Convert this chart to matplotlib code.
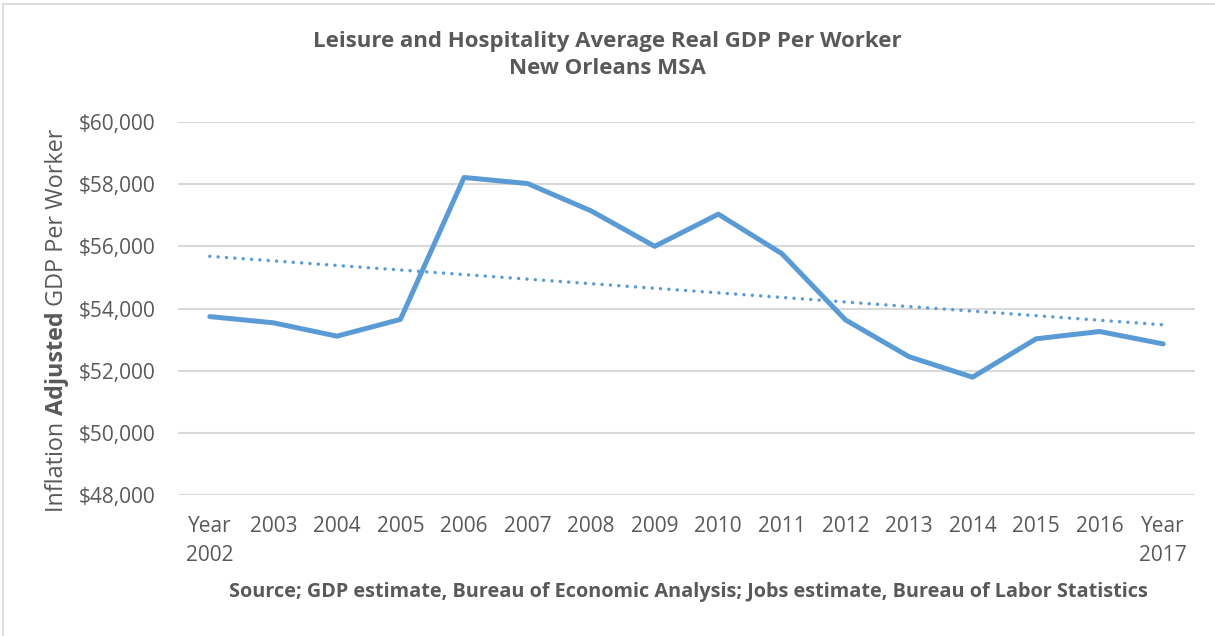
import numpy as np
import matplotlib
matplotlib.use("Agg")
import matplotlib.pyplot as plt
from matplotlib.lines import Line2D

years = list(range(2002, 2018))
values = [53740, 53540, 53110, 53650, 58215, 58020, 57140, 56000,
          57035, 55765, 53635, 52450, 51790, 53025, 53260, 52860]
tick_labels = ["Year\n2002"] + [str(y) for y in years[1:-1]] + ["Year\n2017"]
yticks = [48000, 50000, 52000, 54000, 56000, 58000, 60000]

title = "Leisure and Hospitality Average Real GDP Per Worker\nNew Orleans MSA"
source = "Source; GDP estimate, Bureau of Economic Analysis; Jobs estimate, Bureau of Labor Statistics"

FONT = "Open Sans"
TXT = "#595959"
BLUE = "#5B9BD5"
GRID = "#D9D9D9"

W, H = 1215, 636
fig = plt.figure(figsize=(W / 100, H / 100), dpi=100)
plt.rcParams['font.family'] = [FONT, 'DejaVu Sans']

ax = fig.add_axes([178 / W, 1 - 495 / H, (1195 - 178) / W, (495 - 122) / H])
x = np.arange(len(years))
ax.plot(x, values, color=BLUE, lw=3.6, solid_capstyle='round', solid_joinstyle='round', zorder=3)

# linear trendline
coef = np.polyfit(x, values, 1)
trend = np.polyval(coef, x)
ax.plot(x, trend, color=BLUE, lw=2.5, linestyle=(0, (0.01, 2.4)), dash_capstyle='round', zorder=2)

ax.set_xlim(-0.5, len(years) - 0.5)
ax.set_ylim(48000, 60000)
ax.set_yticks(yticks)
ax.set_yticklabels([f"${v:,.0f}" for v in yticks], fontsize=15, color=TXT)
ax.set_xticks(x)
ax.set_xticklabels(tick_labels, fontsize=15, color=TXT, linespacing=1.5, va='top')
ax.tick_params(axis='both', length=0)
ax.tick_params(axis='y', pad=16)
ax.tick_params(axis='x', pad=15)
ax.grid(axis='y', color=GRID, lw=1.5)
ax.set_axisbelow(True)
for s in ax.spines.values():
    s.set_visible(False)

fig.text(607.5 / W, 1 - 55 / H, title, ha='center', va='center', fontsize=16,
         fontweight='bold', color=TXT, linespacing=1.35)
fig.text(688 / W, 1 - 592 / H, source, ha='center', va='center', fontsize=14.35,
         fontweight='bold', color=TXT)

# y label with mixed weights
fig.canvas.draw()
renderer = fig.canvas.get_renderer()
parts = [("Inflation ", 'normal'), ("Adjusted", 'bold'), (" GDP Per Worker", 'normal')]
xl = 63
texts = []
lengths = []
for s, wt in parts:
    t = fig.text(xl / W, 0, s, rotation=90, rotation_mode='anchor', ha='left', va='baseline',
                 fontsize=16.8, fontweight=wt, color=TXT)
    bb = t.get_window_extent(renderer)
    texts.append(t)
    lengths.append(bb.height)
total = sum(lengths)
ystart = (H - 320) - total / 2
cur = ystart
for t, L in zip(texts, lengths):
    t.set_position((xl / W, cur / H))
    cur += L

# chart border (left and top visible)
fig.add_artist(Line2D([2.5 / W, 2.5 / W], [0, 1 - 4 / H], color=GRID, lw=1.2, transform=fig.transFigure))
fig.add_artist(Line2D([2.5 / W, 1], [1 - 4 / H, 1 - 4 / H], color=GRID, lw=1.2, transform=fig.transFigure))

fig.savefig("out.png", dpi=100)
